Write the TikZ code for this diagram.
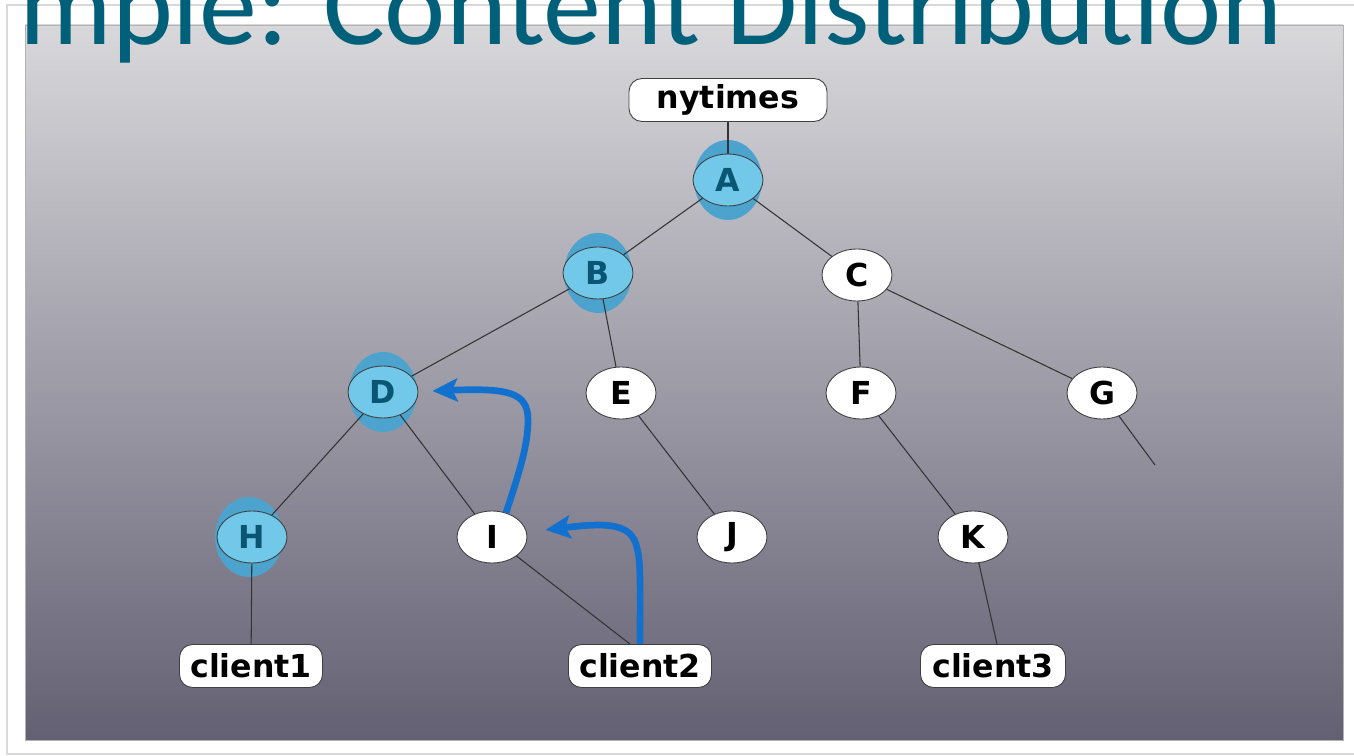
\documentclass[tikz,border=0pt]{standalone}
\usepackage{fontspec}
\newfontfamily\titlefont{Carlito}
\newfontfamily\labelfont{DejaVu Sans}
\usetikzlibrary{shapes,arrows.meta,calc}
\definecolor{slideTeal}{RGB}{0,96,122}
\definecolor{bgTop}{RGB}{216,216,219}
\definecolor{bgBottom}{RGB}{99,96,115}
\definecolor{capBlue}{RGB}{76,164,206}
\definecolor{cacheFill}{RGB}{114,200,232}
\definecolor{cacheText}{RGB}{10,85,115}
\definecolor{fetchBlue}{RGB}{18,112,206}
\pgfdeclarelayer{backLayer}
\pgfdeclarelayer{capLayer}
\pgfdeclarelayer{edgeLayer}
\pgfsetlayers{backLayer,capLayer,edgeLayer,main}
\tikzset{
  router/.style={
    ellipse,
    draw=black!75,
    line width=0.5pt,
    fill=white,
    minimum width=1.4cm,
    minimum height=1.04cm,
    inner sep=0pt,
    font=\labelfont\bfseries\fontsize{18}{18}\selectfont
  },
  cachedRouter/.style={
    router,
    fill=cacheFill,
    text=cacheText
  },
  hostBox/.style={
    rectangle,
    rounded corners=0.26cm,
    draw=black!75,
    line width=0.5pt,
    fill=white,
    minimum height=0.86cm,
    inner sep=0pt,
    font=\labelfont\bfseries\fontsize{18}{18}\selectfont
  },
  cacheCap/.style={
    ellipse,
    fill=capBlue,
    minimum width=1.36cm,
    minimum height=1.6cm,
    inner sep=0pt
  },
  treeLink/.style={
    draw=black!80,
    line width=0.6pt
  },
  fetchArrow/.style={
    -{Stealth[length=0.5cm,width=0.46cm,inset=0.1cm]},
    draw=fetchBlue,
    line width=3.8pt
  }
}
\begin{document}
\begin{tikzpicture}[x=0.02cm,y=-0.02cm]
  \useasboundingbox (0,0) rectangle (1354,756);
  \clip (0,0) rectangle (1354,756);

  % slide frame and gradient panel
  \begin{pgfonlayer}{backLayer}
    \fill[white] (0,0) rectangle (1354,756);
    \draw[black!15, line width=1pt] (7,5) rectangle (1380,754);
    \shade[top color=bgTop, bottom color=bgBottom] (25,25) rectangle (1343,740);
    \draw[black!30, line width=0.5pt] (25,25) rectangle (1343,740);
  \end{pgfonlayer}

  % tree
  \node[hostBox, minimum width=3.96cm] (nytimes) at (728,100) {nytimes};
  \node[cachedRouter] (A) at (728,180) {A};
  \node[cachedRouter] (B) at (598,273) {B};
  \node[router] (C) at (857,275) {C};
  \node[cachedRouter] (D) at (383,392) {D};
  \node[router] (E) at (621,393) {E};
  \node[router] (F) at (861,393) {F};
  \node[router] (G) at (1102,393) {G};
  \node[cachedRouter] (H) at (252,537) {H};
  \node[router] (I) at (492,537) {I};
  \node[router] (J) at (732,537) {J};
  \node[router] (K) at (973,537) {K};
  \node[hostBox, minimum width=2.86cm] (client1) at (251,666) {client1};
  \node[hostBox, minimum width=2.86cm] (client2) at (640,666) {client2};
  \node[hostBox, minimum width=2.9cm] (client3) at (993,666) {client3};
  \coordinate (gEnd) at (1155,465);

  % cached copies
  \begin{pgfonlayer}{capLayer}
    \node[cacheCap] at (A) {};
    \node[cacheCap] at (B) {};
    \node[cacheCap] at (D) {};
    \node[cacheCap] at ($(H)+(-3,0)$) {};
  \end{pgfonlayer}

  \begin{pgfonlayer}{edgeLayer}
    \draw[treeLink] (nytimes) -- (A);
    \draw[treeLink] (A) -- (B);
    \draw[treeLink] (A) -- (C);
    \draw[treeLink] (B) -- (D);
    \draw[treeLink] (B) -- (E);
    \draw[treeLink] (C) -- (F);
    \draw[treeLink] (C) -- (G);
    \draw[treeLink] (G) -- (gEnd);
    \draw[treeLink] (D) -- (H);
    \draw[treeLink] (D) -- (I);
    \draw[treeLink] (E) -- (J);
    \draw[treeLink] (F) -- (K);
    \draw[treeLink] (H) -- (client1);
    \draw[treeLink] (I) -- ($(client2.north)+(-10,0)$);
    \draw[treeLink] (K) -- ($(client3.north)+(4,0)$);
  \end{pgfonlayer}

  % requests served from nearer caches
  \draw[fetchArrow] (I.60) .. controls (520,470) and (528,445) .. (528,420)
    .. controls (528,392) and (508,388) .. ($(D.east)+(14,-1)$);
  \draw[fetchArrow] (client2.north) .. controls (640,590) and (641,560) .. (637,548)
    .. controls (632,524) and (610,522) .. ($(I.east)+(18,-7)$);

  % slide title
  \node[anchor=base east, inner sep=0pt, text=slideTeal,
    font=\titlefont\fontsize{66}{66}\selectfont] (title) at (1283,45) {mple: Content Distribution};
\end{tikzpicture}
\end{document}
